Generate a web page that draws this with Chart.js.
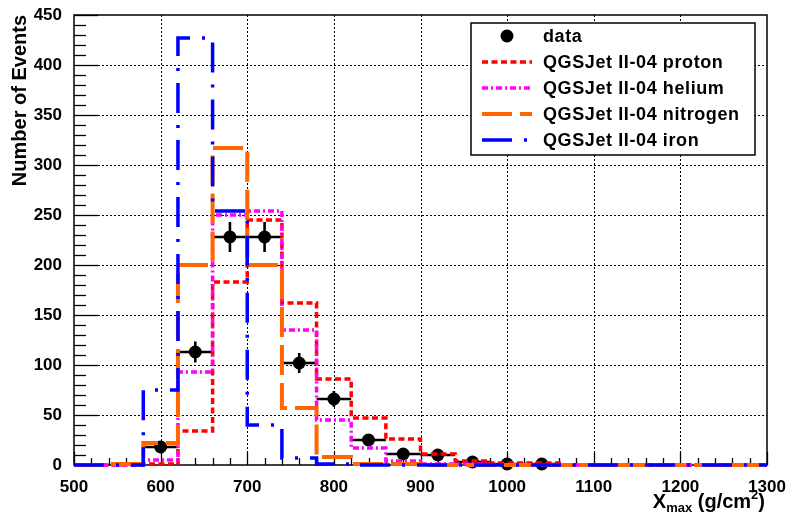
<!DOCTYPE html>
<html><head><meta charset="utf-8">
<script src="https://cdn.jsdelivr.net/npm/chart.js@4/dist/chart.umd.min.js"></script>
<style>html,body{margin:0;padding:0;background:#fff;overflow:hidden}#wrap{width:792px;height:515px}</style>
</head><body><div id="wrap"><canvas id="c" width="792" height="515"></canvas></div>
<script>
// ---- data ----
const binEdges = [500,540,580,620,660,700,740,780,820,860,900,940,980,1020,1060,1100,1140,1180,1220,1260,1300];
const protonCounts   = [0,0,1,34,183,245,162,86,47,26,11,4,2,2,0,0,0,0,0,0];
const heliumCounts   = [0,0,5,93,250,254,135,45,17,4,1,1,0,0,0,0,0,0,0,0];
const nitrogenCounts = [0,1,22,200,317,200,57,8,1,1,0,0,0,0,0,0,0,0,0,0];
const ironCounts     = [0,0,75,427,254,40,7,1,0,0,0,0,0,0,0,0,0,0,0,0];
const dataCenters = [600,640,680,720,760,800,840,880,920,960,1000,1040];
const dataCounts  = [18,113,228,228,102,66,25,11,10,3,1,1];
const dataErrors  = [4.2,10.6,15.1,15.1,10.1,8.1,5,3.3,3.2,1.7,1,1];
const dataHalfWidth = 20;
const seriesLabels = ['data','QGSJet II-04 proton','QGSJet II-04 helium','QGSJet II-04 nitrogen','QGSJet II-04 iron'];
const xTitleMain = 'X', xTitleSub = 'max', xTitlePre = ' (g/cm', xTitleSup = '2', xTitlePost = ')';
const yTitle = 'Number of Events';

const FONT = '"Liberation Sans", Arial, sans-serif';

// point i sits at the upper edge of bin i-1 (stepped 'after': vertical at previous edge, then across)
function stepData(counts){
  return binEdges.map((x,i)=>({x:x, y:counts[Math.max(0,i-1)]}));
}

const frameGrid = {
  id:'frameGrid',
  beforeDatasetsDraw(chart){
    const {ctx, chartArea:a, scales:{x,y}} = chart;
    ctx.save();
    ctx.strokeStyle='#000'; ctx.lineWidth=1; ctx.setLineDash([2,2]);
    for(let v=600; v<1300; v+=100){
      const px=Math.round(x.getPixelForValue(v))+0.5;
      ctx.beginPath(); ctx.moveTo(px,a.top); ctx.lineTo(px,a.bottom); ctx.stroke();
    }
    for(let v=50; v<450; v+=50){
      const py=Math.round(y.getPixelForValue(v))+0.5;
      ctx.beginPath(); ctx.moveTo(a.left,py); ctx.lineTo(a.right,py); ctx.stroke();
    }
    ctx.setLineDash([]);
    ctx.lineWidth=1.3;
    for(let v=0; v<=450; v+=10){
      const py=Math.round(y.getPixelForValue(v))+0.5;
      const len=(v%50===0)?24:12;
      ctx.beginPath(); ctx.moveTo(a.left,py); ctx.lineTo(a.left+len,py); ctx.stroke();
    }
    for(let v=500; v<=1300; v+=20){
      const px=Math.round(x.getPixelForValue(v))+0.5;
      const len=(v%100===0)?13:7;
      ctx.beginPath(); ctx.moveTo(px,a.bottom); ctx.lineTo(px,a.bottom-len); ctx.stroke();
    }
    ctx.lineWidth=1.5;
    ctx.strokeRect(a.left,a.top,a.right-a.left,a.bottom-a.top);
    ctx.lineWidth=2.6; ctx.strokeStyle='#000';
    dataCenters.forEach((c,i)=>{
      const px=x.getPixelForValue(c), py=y.getPixelForValue(dataCounts[i]);
      ctx.beginPath();
      ctx.moveTo(x.getPixelForValue(c-dataHalfWidth),py); ctx.lineTo(x.getPixelForValue(c+dataHalfWidth),py);
      ctx.moveTo(px,y.getPixelForValue(dataCounts[i]-dataErrors[i])); ctx.lineTo(px,y.getPixelForValue(dataCounts[i]+dataErrors[i]));
      ctx.stroke();
    });
    ctx.restore();
  }
};

const overlay = {
  id:'overlay',
  afterDraw(chart){
    const {ctx, chartArea:a} = chart;
    ctx.save();
    const bx=471, by=23, bw=284, bh=132;
    ctx.fillStyle='#fff'; ctx.fillRect(bx,by,bw,bh);
    ctx.strokeStyle='#000'; ctx.lineWidth=1.5; ctx.strokeRect(bx,by,bw,bh);
    const rows=[36,62,88,114,140];
    chart.data.datasets.forEach((ds,i)=>{
      const ry=rows[i];
      if(ds.showLine===false){
        ctx.fillStyle='#000'; ctx.beginPath(); ctx.arc(507,ry,6.5,0,Math.PI*2); ctx.fill();
      } else {
        ctx.strokeStyle=ds.borderColor; ctx.lineWidth=ds.borderWidth; ctx.setLineDash(ds.borderDash||[]);
        ctx.beginPath(); ctx.moveTo(482,ry); ctx.lineTo(532,ry); ctx.stroke(); ctx.setLineDash([]);
      }
      ctx.fillStyle='#000'; ctx.font='bold 18px '+FONT; ctx.textBaseline='middle'; ctx.textAlign='left';
      if('letterSpacing' in ctx) ctx.letterSpacing='0.6px';
      ctx.fillText(ds.label,543,ry+1);
      if('letterSpacing' in ctx) ctx.letterSpacing='0px';
    });
    ctx.save();
    ctx.translate(26,a.top); ctx.rotate(-Math.PI/2);
    ctx.font='bold 20px '+FONT; ctx.textAlign='right'; ctx.textBaseline='alphabetic'; ctx.fillStyle='#000';
    ctx.fillText(yTitle,0,0);
    ctx.restore();
    const big='bold 20px '+FONT, small='bold 13px '+FONT;
    ctx.textBaseline='alphabetic'; ctx.textAlign='left'; ctx.fillStyle='#000';
    ctx.font=big; const w1=ctx.measureText(xTitleMain).width, w3=ctx.measureText(xTitlePre).width, w5=ctx.measureText(xTitlePost).width;
    ctx.font=small; const w2=ctx.measureText(xTitleSub).width, w4=ctx.measureText(xTitleSup).width;
    let cx=765-(w1+w2+w3+w4+w5); const base=508;
    ctx.font=big; ctx.fillText(xTitleMain,cx,base); cx+=w1;
    ctx.font=small; ctx.fillText(xTitleSub,cx,base+4); cx+=w2;
    ctx.font=big; ctx.fillText(xTitlePre,cx,base); cx+=w3;
    ctx.font=small; ctx.fillText(xTitleSup,cx,base-9); cx+=w4;
    ctx.font=big; ctx.fillText(xTitlePost,cx,base);
    ctx.restore();
  }
};

function histDataset(label,counts,color,dash,width,order){
  return {label, data:stepData(counts), borderColor:color, borderDash:dash, borderWidth:width,
    stepped:'after', pointRadius:0, fill:false, order, clip:8, tension:0};
}

new Chart(document.getElementById('c'),{
  type:'line',
  data:{datasets:[
    {label:seriesLabels[0], data:dataCenters.map((c,i)=>({x:c,y:dataCounts[i]})), showLine:false,
     pointRadius:6.5, pointBackgroundColor:'#000', pointBorderColor:'#000', pointBorderWidth:0, order:10, clip:8},
    histDataset(seriesLabels[1],protonCounts,'#ff0000',[6,3.5],3.5,4),
    histDataset(seriesLabels[2],heliumCounts,'#ff00ff',[6,3,2,3],3.5,3),
    histDataset(seriesLabels[3],nitrogenCounts,'#ff6600',[30,8],4,2),
    histDataset(seriesLabels[4],ironCounts,'#0000ff',[30,12,3,12],3.5,1)
  ]},
  options:{
    responsive:false, devicePixelRatio:1, animation:false, events:[],
    layout:{padding:{top:15,right:25,left:0,bottom:0}},
    plugins:{legend:{display:false}, tooltip:{enabled:false}},
    scales:{
      x:{type:'linear', min:500, max:1300, grid:{display:false}, border:{display:false},
        ticks:{stepSize:100, color:'#000', font:{family:FONT,size:17,weight:'bold'}, padding:4, maxRotation:0,
          callback:v=>String(v)},
        afterFit(s){s.height=50;}},
      y:{min:0, max:450, grid:{display:false}, border:{display:false},
        ticks:{stepSize:50, color:'#000', font:{family:FONT,size:17,weight:'bold'}, padding:4,
          callback:v=>String(v)},
        afterFit(s){s.width=74;}}
    }
  },
  plugins:[frameGrid, overlay]
});
</script></body></html>
